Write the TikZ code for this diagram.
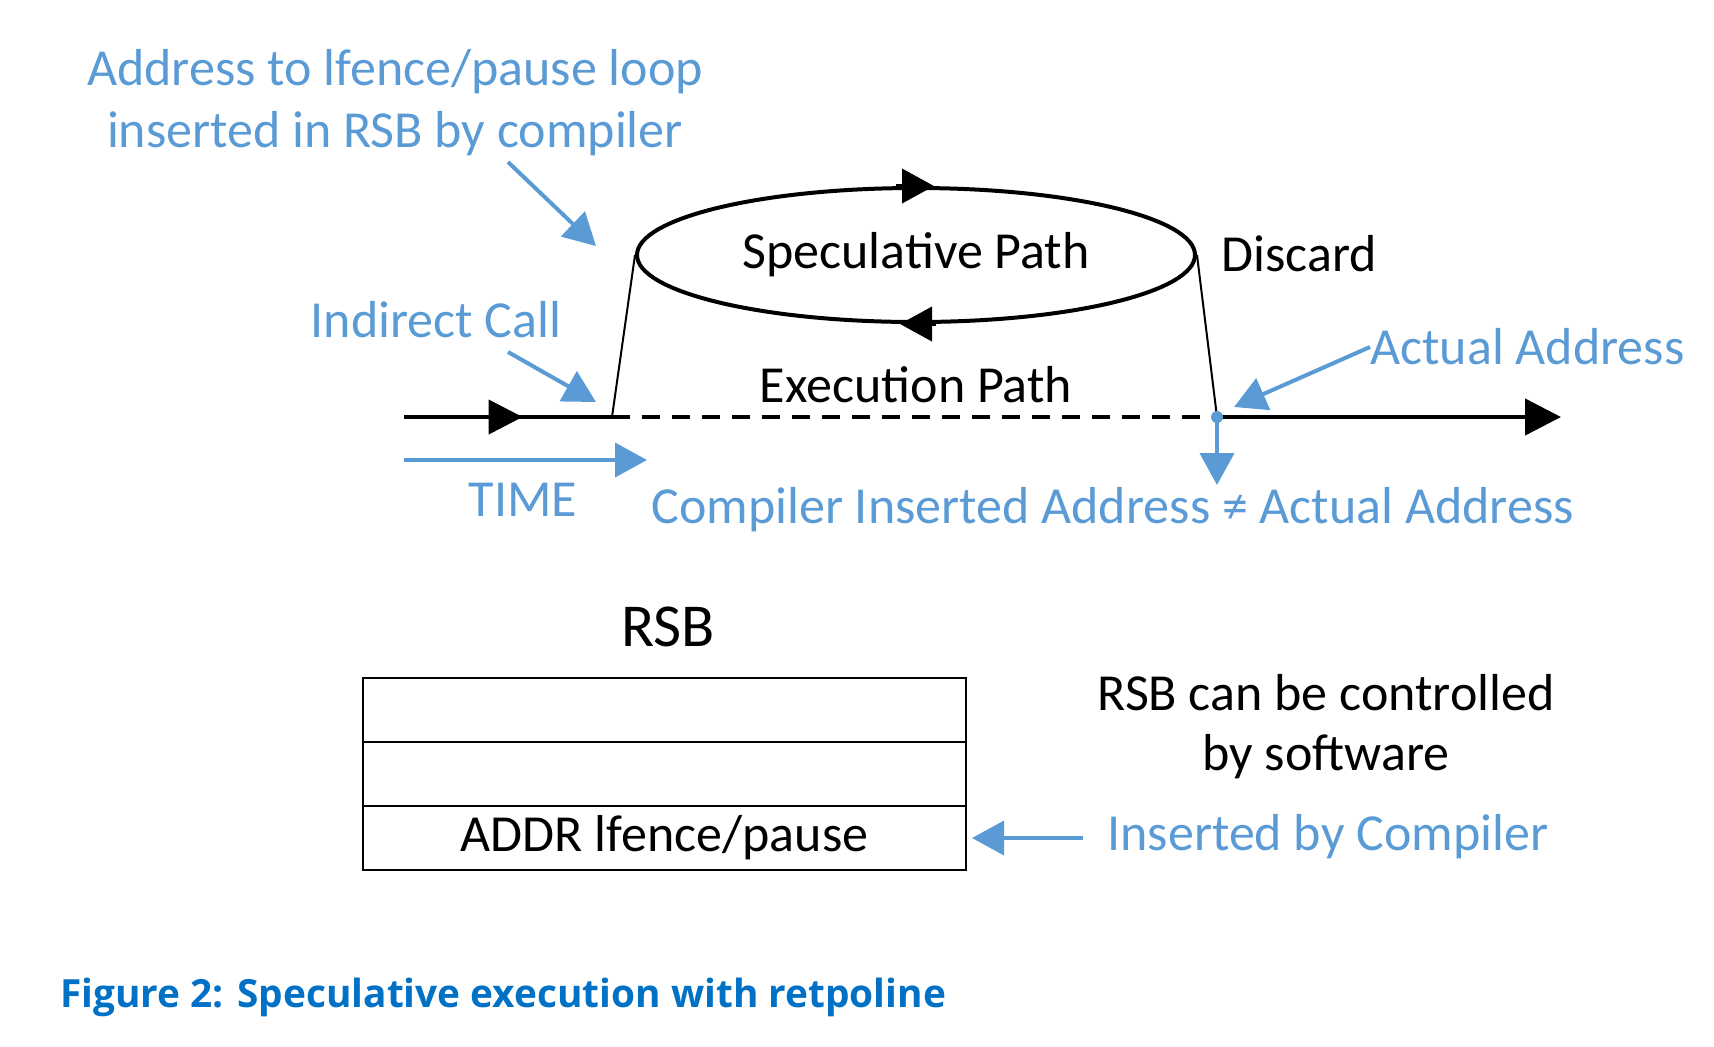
\documentclass[tikz,border=0pt]{standalone}
\usepackage{fontspec}
\setmainfont{Carlito}
\newfontfamily\titlefont{Open Sans}
\usepackage{tikz}
\usetikzlibrary{arrows.meta,positioning,shapes.geometric,decorations.markings}
\definecolor{ink}{HTML}{000000}
\definecolor{hint}{HTML}{5B9BD5}
\definecolor{intel}{HTML}{0071C5}
\tikzset{lbl/.style={font=\fontsize{26}{31}\selectfont,inner sep=0pt,align=center},notelbl/.style={lbl,text=hint},row/.style={draw=ink,line width=1.3pt,minimum width=301.5pt,minimum height=32pt,inner sep=0pt,outer sep=0pt,font=\fontsize{26}{31}\selectfont},barr/.style={-{Triangle[length=16pt,width=17pt]},draw=hint,line width=2pt},karr/.style={-{Triangle[length=18pt,width=18pt]},draw=ink,line width=2.2pt},midtip/.style={postaction={decorate},decoration={markings,mark=at position #1 with {\arrow{Triangle[length=17pt,width=17pt]}}}}}

\begin{document}
\begin{tikzpicture}[x=0.5pt,y=-0.5pt,node distance=0pt]
\useasboundingbox (0,0) rectangle (1714,1046);
\node[notelbl] (addr) at (395,103) {Address to lfence/pause loop\\inserted in RSB by compiler};
\node[notelbl] (call) at (436,320) {Indirect Call};
\node[lbl,ellipse,draw=ink,line width=2pt,minimum width=279pt,minimum height=67pt] (spec) at (916,255) {Speculative Path};
\node[lbl,anchor=west] (disc) at (1221,254) {Discard};
\node[lbl] (exec) at (916,385) {Execution Path};
\node[notelbl,anchor=west] (actual) at (1370,347) {Actual Address};
\node[notelbl] (time) at (523,500) {TIME};
\node[notelbl,anchor=west] (neq) at (651,510) {Compiler Inserted Address ≠ Actual Address};
\node[lbl,font=\fontsize{30.5}{34}\selectfont] (rsbt) at (668,627) {RSB};
\node[row] (r1) at (664.5,710) {};
\node[row,below=of r1] (r2) {};
\node[row,below=of r2] (r3) {ADDR lfence/pause};
\node[lbl,font=\fontsize{26}{30}\selectfont] (ctrl) at (1326,727) {RSB can be controlled\\by software};
\node[notelbl,anchor=west] (ins) at (1107,837) {Inserted by Compiler};
\node[anchor=west,inner sep=0pt,text=intel,font=\titlefont\bfseries\fontsize{19.4}{22}\selectfont] (cap) at (60,997) {Figure 2: Speculative execution with retpoline};
\coordinate (t0) at (404,417);
\coordinate (jmp) at (612,417);
\coordinate (ret) at (1217,417);
\coordinate (t1) at (1561,417);
\coordinate (a0) at (508,162);
\coordinate (a1) at (596,246);
\coordinate (c0) at (508,352);
\coordinate (c1) at (596,402);
\coordinate (act) at (1234,407);
\coordinate (dn) at (1217,485);
\coordinate (tm0) at (404,460);
\coordinate (tm1) at (647,460);
\draw[ink,line width=2.2pt,midtip=0.57] (t0) -- (jmp);
\draw[ink,line width=1pt] (jmp) -- (spec.west);
\draw[ink,line width=1pt] (spec.east) -- (ret);
\draw[ink,line width=1.8pt,dash pattern=on 9pt off 6pt] (jmp) -- (ret);
\draw[karr] (ret) -- (t1);
\draw[-{Triangle[length=16pt,width=17pt]},ink,line width=2pt] ([xshift=-10pt]spec.north) -- ([xshift=9pt]spec.north);
\draw[-{Triangle[length=16pt,width=17pt]},ink,line width=2pt] ([xshift=10pt]spec.south) -- ([xshift=-8pt]spec.south);
\fill[hint] (ret) circle (3pt);
\draw[barr] (ret) -- (dn);
\draw[barr] (a0) -- (a1);
\draw[barr] (c0) -- (c1);
\draw[barr] (actual.west) -- (act);
\draw[barr] (tm0) -- (tm1);
\draw[barr,shorten >=3pt] ([xshift=-12pt]ins.west |- r3.east) -- (r3.east);
\end{tikzpicture}
\end{document}
